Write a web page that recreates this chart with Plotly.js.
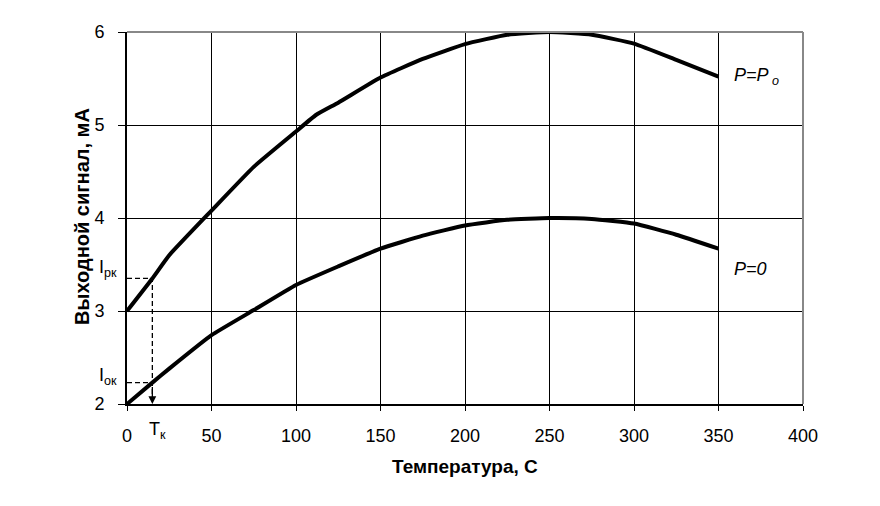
<!DOCTYPE html>
<html>
<head>
<meta charset="utf-8">
<script src="https://cdn.plot.ly/plotly-3.0.1.min.js"></script>
<style>
  body { margin: 0; background: #fff; }
  #chart { width: 880px; height: 506px; }
</style>
</head>
<body>
<div id="chart"></div>
<script>
  // temperature, C
  const tempUpper = [0, 15, 25, 50, 75, 100, 112, 125, 150, 175, 200, 225, 250, 275, 300, 325, 350];
  // output signal, mA (P = Po)
  const sigUpper = [3.0, 3.35, 3.60, 4.08, 4.55, 4.93, 5.11, 5.24, 5.51, 5.71, 5.87, 5.97, 6.0, 5.97, 5.875, 5.70, 5.52];

  const tempLower = [0, 15, 25, 50, 75, 100, 125, 150, 175, 200, 225, 250, 275, 300, 325, 350];
  // output signal, mA (P = 0)
  const sigLower = [2.0, 2.23, 2.38, 2.74, 3.01, 3.28, 3.48, 3.67, 3.81, 3.92, 3.98, 4.0, 3.99, 3.94, 3.82, 3.67];

  // Tk construction
  const tk = 15;
  const irk = 3.35;
  const iok = 2.23;

  const xTicks = [0, 50, 100, 150, 200, 250, 300, 350, 400];
  const yTicks = [2, 3, 4, 5, 6];

  const font = 'Liberation Sans, Arial, sans-serif';
  const nb = '\u00a0';

  const data = [
    {
      x: tempUpper, y: sigUpper, type: 'scatter', mode: 'lines',
      line: {color: '#000', width: 4, shape: 'spline', smoothing: 0.4}, hoverinfo: 'skip'
    },
    {
      x: tempLower, y: sigLower, type: 'scatter', mode: 'lines',
      line: {color: '#000', width: 4, shape: 'spline', smoothing: 0.4}, hoverinfo: 'skip'
    },
    {
      x: [0, tk, tk], y: [irk, irk, 2.1], type: 'scatter', mode: 'lines',
      line: {color: '#000', width: 1.3, dash: '5px,3px'}, hoverinfo: 'skip'
    },
    {
      x: [0, tk], y: [iok, iok], type: 'scatter', mode: 'lines',
      line: {color: '#000', width: 1.3, dash: '5px,3px'}, hoverinfo: 'skip'
    }
  ];

  const layout = {
    width: 880, height: 506,
    margin: {l: 127, r: 77, t: 32, b: 102},
    paper_bgcolor: '#fff', plot_bgcolor: '#fff',
    showlegend: false,
    font: {family: font, color: '#000', size: 18},
    xaxis: {
      range: [0, 400], tickvals: xTicks, ticktext: xTicks.map(String),
      showgrid: true, gridcolor: '#000', gridwidth: 1,
      showline: true, linecolor: '#000', linewidth: 2,
      ticks: 'outside', ticklen: 5, tickcolor: '#000', tickwidth: 1,
      ticklabelstandoff: 9,
      zeroline: false, fixedrange: true
    },
    yaxis: {
      range: [2, 6], tickvals: yTicks, ticktext: yTicks.map(v => v + nb + nb),
      showgrid: true, gridcolor: '#000', gridwidth: 1,
      showline: true, linecolor: '#000', linewidth: 2,
      ticks: 'outside', ticklen: 7, tickcolor: '#000', tickwidth: 1,
      zeroline: false, fixedrange: true
    },
    shapes: [
      {type: 'line', xref: 'paper', yref: 'paper', x0: 0, x1: 1, y0: 1, y1: 1,
       line: {color: '#888', width: 2}, layer: 'above'},
      {type: 'line', xref: 'paper', yref: 'paper', x0: 1, x1: 1, y0: 0, y1: 1,
       line: {color: '#888', width: 2}, layer: 'above'}
    ],
    annotations: [
      // axis titles
      {x: 0.5, y: -0.169, xref: 'paper', yref: 'paper', xanchor: 'center', yanchor: 'middle', showarrow: false,
       text: '<b>Температура, С</b>', font: {size: 19}},
      {x: -0.0666, y: 0.505, xref: 'paper', yref: 'paper', xanchor: 'center', yanchor: 'middle', showarrow: false,
       textangle: -90, text: '<b>Выходной сигнал, мА</b>', font: {size: 20}},
      // Tk arrow
      {x: tk, y: 2.0, ax: tk, ay: 2.2, xref: 'x', yref: 'y', axref: 'x', ayref: 'y',
       text: '', showarrow: true, arrowhead: 2, arrowsize: 1.2, arrowwidth: 1.3, arrowcolor: '#000'},
      {x: 358, y: 5.52, xref: 'x', yref: 'y', xanchor: 'left', yanchor: 'middle', showarrow: false,
       text: '<i>P=P<sub> o</sub></i>', font: {size: 18}},
      {x: 358, y: 3.45, xref: 'x', yref: 'y', xanchor: 'left', yanchor: 'middle', showarrow: false,
       text: '<i>P=0</i>', font: {size: 18}},
      {x: -0.012, y: 3.46, xref: 'paper', yref: 'y', xanchor: 'right', yanchor: 'middle', showarrow: false,
       text: 'I<sub>рк</sub>', font: {size: 18}},
      {x: -0.012, y: 2.3, xref: 'paper', yref: 'y', xanchor: 'right', yanchor: 'middle', showarrow: false,
       text: 'I<sub>ок</sub>', font: {size: 18}},
      {x: tk + 3, y: -0.07, xref: 'x', yref: 'paper', xanchor: 'center', yanchor: 'middle', showarrow: false,
       text: 'T<sub>к</sub>', font: {size: 18}}
    ]
  };

  Plotly.newPlot('chart', data, layout, {staticPlot: true});
</script>
</body>
</html>
